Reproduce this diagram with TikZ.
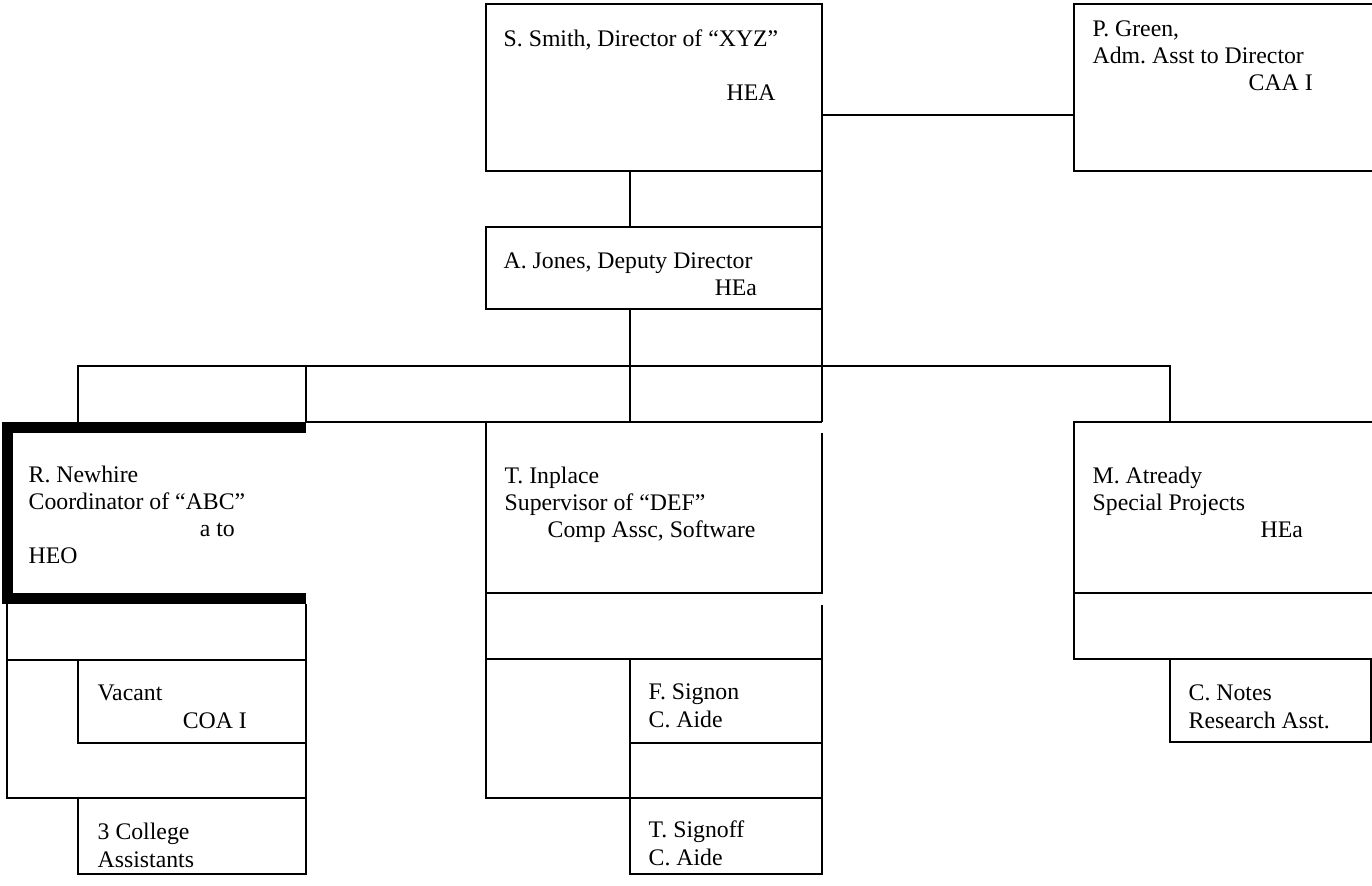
\documentclass[tikz,border=0pt]{standalone}
\usepackage{fontspec}
\setmainfont{Liberation Serif}
\usetikzlibrary{positioning, fit}
\frenchspacing

\tikzset{
  box/.style={draw, rectangle, inner sep=0pt, outer sep=0pt},
  area/.style={rectangle, inner sep=0pt, outer sep=0pt},
  lbl/.style={anchor=base west, align=left, inner sep=0pt, font=\fontsize{12pt}{13.7pt}\selectfont},
  heavy/.style={line width=5.6pt, line join=miter}
}

\begin{document}
\begin{tikzpicture}[x=0.505pt, y=-0.505pt, line width=0.7pt]
    \useasboundingbox (0,0) rectangle (1372,886);

    % Director level (labels sit on their last line)
    \node[box, fit={(486,4) (822,171)}] (smith) {};
    \node[area, fit={(1074,4) (1372,171)}] (green) {};
    \node[box, fit={(486,227) (822,309)}] (jones) {};
    \node[lbl] (smithtxt) at (503,101) {S. Smith, Director of ``XYZ''\\[13.7pt]\hspace*{112.6pt}HEA};
    \node[lbl] (greentxt) at (1092,91) {P. Green,\\Adm. Asst to Director\\\hspace*{78.8pt}CAA I};
    \node[lbl] (jonestxt) at (503,296) {A. Jones, Deputy Director\\\hspace*{106.6pt}HEa};

    % Unit heads
    \node[area, fit={(78,366) (1170,422)}] (bar) {};
    \node[area, fit={(7.5,427.5) (306,598.5)}] (newhire) {};
    \node[area, fit={(486,422) (822,593)}] (inplace) {};
    \node[area, fit={(1074,422) (1372,659)}] (atready) {};
    \node[lbl] (newhiretxt) at (28,564) {R. Newhire\\Coordinator of ``ABC''\\\hspace*{86.4pt}a to\\HEO};
    \node[lbl] (inplacetxt) at (504,538) {T. Inplace\\Supervisor of ``DEF''\\\hspace*{21.7pt}Comp Assc, Software};
    \node[lbl] (atreadytxt) at (1092,538) {M. Atready\\Special Projects\\\hspace*{84.8pt}HEa};

    % Staff
    \node[area, fit={(7,604) (306,798)}] (abcrow) {};
    \node[area, fit={(486,593) (822,798)}] (defrow) {};
    \node[box, fit={(78,660) (306,743)}] (vacant) {};
    \node[box, fit={(78,798) (306,874)}] (college) {};
    \node[box, fit={(630,659) (822,743)}] (signon) {};
    \node[box, fit={(630,798) (822,874)}] (signoff) {};
    \node[box, fit={(1170,659) (1371,742)}] (notes) {};
    \node[lbl] (vacanttxt) at (97,728) {Vacant\\\hspace*{43pt}COA I};
    \node[lbl] (collegetxt) at (97,867) {3 College\\Assistants};
    \node[lbl] (signontxt) at (648,727) {F. Signon\\C. Aide};
    \node[lbl] (signofftxt) at (648,865) {T. Signoff\\C. Aide};
    \node[lbl] (notestxt) at (1188,728) {C. Notes\\Research Asst.};

    % Connections
    \draw (smith.east |- 0,115) -- (green.west |- 0,115);
    \draw (green.north east) -- (green.north west) -- (green.south west) -- (green.south east);
    \draw (smith.south -| 630,0) -- (jones.north -| 630,0);
    \draw (jones.south -| 630,0) -- (bar.south -| 630,0);
    \draw (smith.south east) -- (bar.south -| smith.east);
    \draw (bar.south west) -- (bar.north west) -- (bar.north east) -- (bar.south east);
    \draw (bar.north -| 306,0) -- (bar.south -| 306,0) -- (bar.south -| smith.east);

    % R. Newhire unit
    \draw[heavy] (newhire.north east) -- (newhire.north west) -- (newhire.south west) -- (newhire.south east);
    \draw (abcrow.north west) -- (abcrow.south west) -- (abcrow.south east) -- (abcrow.north east);
    \draw (abcrow.west |- vacant.north) -- (vacant.north west);

    % T. Inplace unit
    \draw (inplace.north west) -- (defrow.south west) -- (defrow.south -| signoff.west);
    \draw (inplace.east |- 0,433) -- (inplace.south east) -- (inplace.south west);
    \draw (defrow.east |- 0,605) -- (signon.north east);
    \draw (defrow.west |- signon.north) -- (signon.north west);
    \draw (signon.south west) -- (signoff.north west);
    \draw (signon.south east) -- (signoff.north east);

    % M. Atready unit
    \draw (atready.north east) -- (atready.north west) -- (atready.south west) -- (atready.south east);
    \draw (atready.west |- 0,593) -- (atready.east |- 0,593);
\end{tikzpicture}
\end{document}
